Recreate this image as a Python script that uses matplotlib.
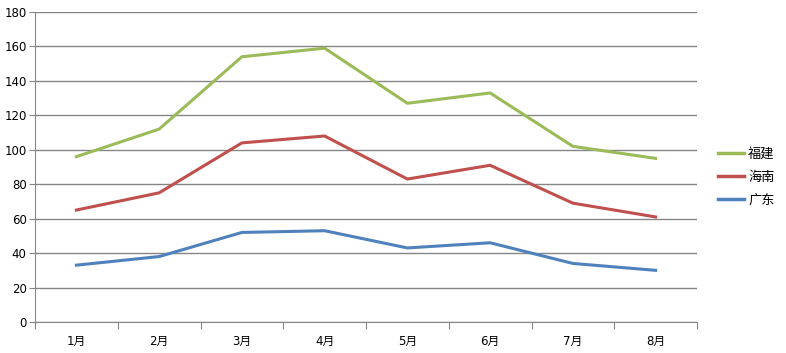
import matplotlib
matplotlib.use("Agg")
import matplotlib.pyplot as plt
from matplotlib.lines import Line2D

plt.rcParams['font.family'] = ['DejaVu Sans', 'Noto Sans CJK SC']

months = ['1月', '2月', '3月', '4月', '5月', '6月', '7月', '8月']
fujian = [96, 112, 154, 159, 127, 133, 102, 95]
hainan = [65, 75, 104, 108, 83, 91, 69, 61]
guangdong = [33, 38, 52, 53, 43, 46, 34, 30]
series_names = ['福建', '海南', '广东']
colors = ['#9BBB59', '#C0504D', '#4F81BD']
yticks = list(range(0, 181, 20))

fig = plt.figure(figsize=(7.86, 3.53), dpi=100)
W, H = 786, 353
ax = fig.add_axes([35 / W, (H - 322) / H, (697 - 35) / W, (322 - 12) / H])

x = list(range(len(months)))
for vals, c in zip([fujian, hainan, guangdong], colors):
    ax.plot(x, vals, color=c, lw=2.2, solid_joinstyle='round', zorder=3)

ax.set_xlim(-0.5, len(months) - 0.5)
ax.set_ylim(0, 180)
ax.set_yticks(yticks)
ax.set_yticklabels([str(v) for v in yticks], fontsize=8.5)
ax.yaxis.grid(True, color='#868686', lw=1)
ax.set_axisbelow(True)

# x ticks at category boundaries, labels at centers
ax.set_xticks([i - 0.5 for i in range(len(months) + 1)])
ax.set_xticklabels([])
ax.set_xticks(x, minor=True)
ax.set_xticklabels(months, minor=True, fontsize=8.5,
                   family=['DejaVu Sans', 'Noto Sans CJK SC'])
ax.tick_params(axis='x', which='major', length=5, color='#868686', direction='out')
ax.tick_params(axis='x', which='minor', length=0, pad=9)
ax.tick_params(axis='y', length=4, color='#868686', direction='out', pad=2)

for s in ['top', 'right']:
    ax.spines[s].set_visible(False)
for s in ['left', 'bottom']:
    ax.spines[s].set_color('#868686')

handles = [Line2D([0], [0], color=c, lw=2.5) for c in colors]
leg = fig.legend(handles, series_names, loc='center left',
                 bbox_to_anchor=(706 / W, (H - 177) / H), frameon=False,
                 handlelength=2.0, handletextpad=0.3, labelspacing=0.75,
                 prop={'family': ['Noto Sans CJK SC', 'DejaVu Sans'], 'size': 9.5})

fig.savefig('out.png', dpi=100)
